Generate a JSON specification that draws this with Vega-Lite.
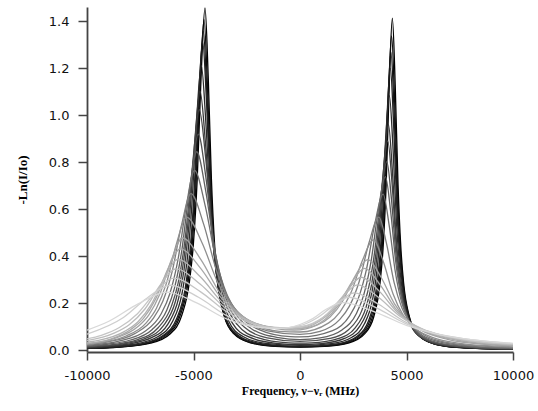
{
"$schema": "https://vega.github.io/schema/vega-lite/v6.json",
"width": 426, "height": 345,
"autosize": "none",
"padding": {"left": 87, "top": 7, "right": 25, "bottom": 59},
"background": "white",
"config": {"view": {"stroke": null}, "axis": {"grid": false}},
"data": {"values": [
{"c":0,"x":-10000,"y":0.007},{"c":0,"x":-8475,"y":0.013},{"c":0,"x":-7015,"y":0.030},{"c":0,"x":-6102,"y":0.069},{"c":0,"x":-5555,"y":0.147},{"c":0,"x":-5190,"y":0.292},{"c":0,"x":-5008,"y":0.449},{"c":0,"x":-4825,"y":0.729},{"c":0,"x":-4643,"y":1.165},{"c":0,"x":-4460,"y":1.456},{"c":0,"x":-4310,"y":1.165},{"c":0,"x":-4160,"y":0.729},{"c":0,"x":-4010,"y":0.449},{"c":0,"x":-3860,"y":0.292},{"c":0,"x":-3560,"y":0.147},{"c":0,"x":-3110,"y":0.070},{"c":0,"x":-2360,"y":0.032},{"c":0,"x":-1160,"y":0.016},{"c":0,"x":0,"y":0.013},{"c":0,"x":1146,"y":0.016},{"c":0,"x":2306,"y":0.031},{"c":0,"x":3031,"y":0.069},{"c":0,"x":3466,"y":0.143},{"c":0,"x":3756,"y":0.284},{"c":0,"x":3901,"y":0.436},{"c":0,"x":4046,"y":0.707},{"c":0,"x":4191,"y":1.130},{"c":0,"x":4336,"y":1.413},{"c":0,"x":4469,"y":1.130},{"c":0,"x":4601,"y":0.707},{"c":0,"x":4734,"y":0.436},{"c":0,"x":4866,"y":0.284},{"c":0,"x":5131,"y":0.143},{"c":0,"x":5529,"y":0.068},{"c":0,"x":6191,"y":0.030},{"c":0,"x":7251,"y":0.013},{"c":0,"x":10000,"y":0.004},
{"c":1,"x":-10000,"y":0.007},{"c":1,"x":-8685,"y":0.012},{"c":1,"x":-7165,"y":0.029},{"c":1,"x":-6215,"y":0.067},{"c":1,"x":-5645,"y":0.142},{"c":1,"x":-5265,"y":0.282},{"c":1,"x":-5075,"y":0.433},{"c":1,"x":-4885,"y":0.704},{"c":1,"x":-4695,"y":1.125},{"c":1,"x":-4505,"y":1.406},{"c":1,"x":-4345,"y":1.125},{"c":1,"x":-4185,"y":0.704},{"c":1,"x":-4025,"y":0.433},{"c":1,"x":-3865,"y":0.282},{"c":1,"x":-3545,"y":0.142},{"c":1,"x":-3065,"y":0.068},{"c":1,"x":-2265,"y":0.031},{"c":1,"x":-985,"y":0.016},{"c":1,"x":0,"y":0.014},{"c":1,"x":945,"y":0.016},{"c":1,"x":2165,"y":0.030},{"c":1,"x":2927,"y":0.065},{"c":1,"x":3385,"y":0.136},{"c":1,"x":3690,"y":0.269},{"c":1,"x":3842,"y":0.413},{"c":1,"x":3995,"y":0.669},{"c":1,"x":4147,"y":1.070},{"c":1,"x":4300,"y":1.337},{"c":1,"x":4440,"y":1.070},{"c":1,"x":4580,"y":0.669},{"c":1,"x":4720,"y":0.413},{"c":1,"x":4860,"y":0.269},{"c":1,"x":5140,"y":0.135},{"c":1,"x":5560,"y":0.064},{"c":1,"x":6260,"y":0.028},{"c":1,"x":7380,"y":0.012},{"c":1,"x":10000,"y":0.004},
{"c":2,"x":-10000,"y":0.008},{"c":2,"x":-8885,"y":0.012},{"c":2,"x":-7305,"y":0.028},{"c":2,"x":-6318,"y":0.065},{"c":2,"x":-5725,"y":0.137},{"c":2,"x":-5330,"y":0.272},{"c":2,"x":-5133,"y":0.418},{"c":2,"x":-4935,"y":0.679},{"c":2,"x":-4738,"y":1.085},{"c":2,"x":-4540,"y":1.356},{"c":2,"x":-4368,"y":1.085},{"c":2,"x":-4195,"y":0.679},{"c":2,"x":-4023,"y":0.418},{"c":2,"x":-3850,"y":0.272},{"c":2,"x":-3505,"y":0.137},{"c":2,"x":-2988,"y":0.066},{"c":2,"x":-2125,"y":0.030},{"c":2,"x":-745,"y":0.016},{"c":2,"x":0,"y":0.015},{"c":2,"x":695,"y":0.016},{"c":2,"x":1995,"y":0.029},{"c":2,"x":2808,"y":0.062},{"c":2,"x":3295,"y":0.129},{"c":2,"x":3620,"y":0.255},{"c":2,"x":3783,"y":0.392},{"c":2,"x":3945,"y":0.635},{"c":2,"x":4108,"y":1.015},{"c":2,"x":4270,"y":1.268},{"c":2,"x":4418,"y":1.015},{"c":2,"x":4565,"y":0.635},{"c":2,"x":4713,"y":0.391},{"c":2,"x":4860,"y":0.255},{"c":2,"x":5155,"y":0.128},{"c":2,"x":5598,"y":0.061},{"c":2,"x":6335,"y":0.027},{"c":2,"x":7515,"y":0.011},{"c":2,"x":10000,"y":0.004},
{"c":3,"x":-10000,"y":0.008},{"c":3,"x":-9080,"y":0.011},{"c":3,"x":-7440,"y":0.027},{"c":3,"x":-6415,"y":0.063},{"c":3,"x":-5800,"y":0.132},{"c":3,"x":-5390,"y":0.263},{"c":3,"x":-5185,"y":0.404},{"c":3,"x":-4980,"y":0.656},{"c":3,"x":-4775,"y":1.049},{"c":3,"x":-4570,"y":1.311},{"c":3,"x":-4385,"y":1.049},{"c":3,"x":-4200,"y":0.656},{"c":3,"x":-4015,"y":0.404},{"c":3,"x":-3830,"y":0.263},{"c":3,"x":-3460,"y":0.132},{"c":3,"x":-2905,"y":0.063},{"c":3,"x":-1980,"y":0.030},{"c":3,"x":-500,"y":0.017},{"c":3,"x":0,"y":0.016},{"c":3,"x":445,"y":0.017},{"c":3,"x":1825,"y":0.028},{"c":3,"x":2688,"y":0.059},{"c":3,"x":3205,"y":0.122},{"c":3,"x":3550,"y":0.242},{"c":3,"x":3723,"y":0.371},{"c":3,"x":3895,"y":0.601},{"c":3,"x":4068,"y":0.961},{"c":3,"x":4240,"y":1.200},{"c":3,"x":4395,"y":0.960},{"c":3,"x":4550,"y":0.600},{"c":3,"x":4705,"y":0.370},{"c":3,"x":4860,"y":0.241},{"c":3,"x":5170,"y":0.121},{"c":3,"x":5635,"y":0.058},{"c":3,"x":6410,"y":0.025},{"c":3,"x":7650,"y":0.011},{"c":3,"x":10000,"y":0.004},
{"c":4,"x":-10000,"y":0.009},{"c":4,"x":-9585,"y":0.011},{"c":4,"x":-7785,"y":0.025},{"c":4,"x":-6660,"y":0.058},{"c":4,"x":-5985,"y":0.122},{"c":4,"x":-5535,"y":0.243},{"c":4,"x":-5310,"y":0.373},{"c":4,"x":-5085,"y":0.606},{"c":4,"x":-4860,"y":0.969},{"c":4,"x":-4635,"y":1.211},{"c":4,"x":-4420,"y":0.969},{"c":4,"x":-4205,"y":0.606},{"c":4,"x":-3990,"y":0.373},{"c":4,"x":-3775,"y":0.243},{"c":4,"x":-3345,"y":0.123},{"c":4,"x":-2700,"y":0.059},{"c":4,"x":-1625,"y":0.029},{"c":4,"x":0,"y":0.020},{"c":4,"x":1465,"y":0.028},{"c":4,"x":2440,"y":0.055},{"c":4,"x":3025,"y":0.112},{"c":4,"x":3415,"y":0.219},{"c":4,"x":3610,"y":0.336},{"c":4,"x":3805,"y":0.543},{"c":4,"x":4000,"y":0.867},{"c":4,"x":4195,"y":1.083},{"c":4,"x":4363,"y":0.867},{"c":4,"x":4530,"y":0.543},{"c":4,"x":4698,"y":0.335},{"c":4,"x":4865,"y":0.218},{"c":4,"x":5200,"y":0.110},{"c":4,"x":5703,"y":0.053},{"c":4,"x":6540,"y":0.023},{"c":4,"x":7880,"y":0.010},{"c":4,"x":10000,"y":0.004},
{"c":5,"x":-10000,"y":0.011},{"c":5,"x":-9195,"y":0.015},{"c":5,"x":-8195,"y":0.024},{"c":5,"x":-6945,"y":0.054},{"c":5,"x":-6195,"y":0.112},{"c":5,"x":-5695,"y":0.222},{"c":5,"x":-5445,"y":0.341},{"c":5,"x":-5195,"y":0.552},{"c":5,"x":-4945,"y":0.882},{"c":5,"x":-4695,"y":1.102},{"c":5,"x":-4440,"y":0.883},{"c":5,"x":-4185,"y":0.554},{"c":5,"x":-3930,"y":0.342},{"c":5,"x":-3675,"y":0.223},{"c":5,"x":-3165,"y":0.114},{"c":5,"x":-2400,"y":0.056},{"c":5,"x":-1125,"y":0.029},{"c":5,"x":0,"y":0.024},{"c":5,"x":1000,"y":0.028},{"c":5,"x":2125,"y":0.051},{"c":5,"x":2800,"y":0.101},{"c":5,"x":3250,"y":0.195},{"c":5,"x":3475,"y":0.298},{"c":5,"x":3700,"y":0.482},{"c":5,"x":3925,"y":0.769},{"c":5,"x":4150,"y":0.960},{"c":5,"x":4333,"y":0.769},{"c":5,"x":4515,"y":0.482},{"c":5,"x":4698,"y":0.298},{"c":5,"x":4880,"y":0.195},{"c":5,"x":5245,"y":0.099},{"c":5,"x":5793,"y":0.048},{"c":5,"x":6705,"y":0.021},{"c":5,"x":8165,"y":0.010},{"c":5,"x":10000,"y":0.005},
{"c":6,"x":-10000,"y":0.013},{"c":6,"x":-8650,"y":0.022},{"c":6,"x":-7250,"y":0.050},{"c":6,"x":-6410,"y":0.104},{"c":6,"x":-5850,"y":0.207},{"c":6,"x":-5570,"y":0.317},{"c":6,"x":-5290,"y":0.513},{"c":6,"x":-5010,"y":0.819},{"c":6,"x":-4730,"y":1.023},{"c":6,"x":-4430,"y":0.819},{"c":6,"x":-4130,"y":0.514},{"c":6,"x":-3830,"y":0.317},{"c":6,"x":-3530,"y":0.208},{"c":6,"x":-2930,"y":0.107},{"c":6,"x":-2030,"y":0.054},{"c":6,"x":-530,"y":0.031},{"c":6,"x":0,"y":0.030},{"c":6,"x":550,"y":0.031},{"c":6,"x":1825,"y":0.050},{"c":6,"x":2590,"y":0.095},{"c":6,"x":3100,"y":0.182},{"c":6,"x":3355,"y":0.277},{"c":6,"x":3610,"y":0.448},{"c":6,"x":3865,"y":0.714},{"c":6,"x":4120,"y":0.890},{"c":6,"x":4318,"y":0.714},{"c":6,"x":4515,"y":0.448},{"c":6,"x":4713,"y":0.277},{"c":6,"x":4910,"y":0.181},{"c":6,"x":5305,"y":0.092},{"c":6,"x":5898,"y":0.045},{"c":6,"x":6885,"y":0.021},{"c":6,"x":8465,"y":0.010},{"c":6,"x":10000,"y":0.006},
{"c":7,"x":-10000,"y":0.015},{"c":7,"x":-9190,"y":0.020},{"c":7,"x":-7615,"y":0.045},{"c":7,"x":-6670,"y":0.094},{"c":7,"x":-6040,"y":0.186},{"c":7,"x":-5725,"y":0.284},{"c":7,"x":-5410,"y":0.461},{"c":7,"x":-5095,"y":0.735},{"c":7,"x":-4780,"y":0.919},{"c":7,"x":-4420,"y":0.736},{"c":7,"x":-4060,"y":0.462},{"c":7,"x":-3700,"y":0.286},{"c":7,"x":-3340,"y":0.188},{"c":7,"x":-2620,"y":0.098},{"c":7,"x":-1540,"y":0.052},{"c":7,"x":0,"y":0.037},{"c":7,"x":1420,"y":0.050},{"c":7,"x":2305,"y":0.089},{"c":7,"x":2895,"y":0.167},{"c":7,"x":3190,"y":0.252},{"c":7,"x":3485,"y":0.404},{"c":7,"x":3780,"y":0.642},{"c":7,"x":4075,"y":0.802},{"c":7,"x":4293,"y":0.643},{"c":7,"x":4510,"y":0.404},{"c":7,"x":4728,"y":0.250},{"c":7,"x":4945,"y":0.164},{"c":7,"x":5380,"y":0.084},{"c":7,"x":6033,"y":0.041},{"c":7,"x":7120,"y":0.018},{"c":7,"x":8860,"y":0.009},{"c":7,"x":10000,"y":0.006},
{"c":8,"x":-10000,"y":0.017},{"c":8,"x":-9050,"y":0.025},{"c":8,"x":-8000,"y":0.042},{"c":8,"x":-6950,"y":0.087},{"c":8,"x":-6250,"y":0.171},{"c":8,"x":-5900,"y":0.262},{"c":8,"x":-5550,"y":0.424},{"c":8,"x":-5200,"y":0.676},{"c":8,"x":-4850,"y":0.844},{"c":8,"x":-4425,"y":0.677},{"c":8,"x":-4000,"y":0.425},{"c":8,"x":-3575,"y":0.264},{"c":8,"x":-3150,"y":0.175},{"c":8,"x":-2300,"y":0.092},{"c":8,"x":-1025,"y":0.053},{"c":8,"x":0,"y":0.045},{"c":8,"x":950,"y":0.052},{"c":8,"x":1970,"y":0.086},{"c":8,"x":2650,"y":0.156},{"c":8,"x":2990,"y":0.234},{"c":8,"x":3330,"y":0.374},{"c":8,"x":3670,"y":0.592},{"c":8,"x":4010,"y":0.738},{"c":8,"x":4255,"y":0.591},{"c":8,"x":4500,"y":0.372},{"c":8,"x":4745,"y":0.231},{"c":8,"x":4990,"y":0.151},{"c":8,"x":5480,"y":0.078},{"c":8,"x":6215,"y":0.038},{"c":8,"x":7440,"y":0.018},{"c":8,"x":9400,"y":0.008},{"c":8,"x":10000,"y":0.007},
{"c":9,"x":-10000,"y":0.020},{"c":9,"x":-8460,"y":0.039},{"c":9,"x":-7290,"y":0.079},{"c":9,"x":-6510,"y":0.156},{"c":9,"x":-6120,"y":0.238},{"c":9,"x":-5730,"y":0.384},{"c":9,"x":-5340,"y":0.613},{"c":9,"x":-4950,"y":0.765},{"c":9,"x":-4450,"y":0.614},{"c":9,"x":-3950,"y":0.387},{"c":9,"x":-3450,"y":0.241},{"c":9,"x":-2950,"y":0.161},{"c":9,"x":-1950,"y":0.088},{"c":9,"x":-450,"y":0.057},{"c":9,"x":0,"y":0.056},{"c":9,"x":1530,"y":0.083},{"c":9,"x":2320,"y":0.145},{"c":9,"x":2715,"y":0.214},{"c":9,"x":3110,"y":0.339},{"c":9,"x":3505,"y":0.534},{"c":9,"x":3900,"y":0.664},{"c":9,"x":4185,"y":0.532},{"c":9,"x":4470,"y":0.336},{"c":9,"x":4755,"y":0.209},{"c":9,"x":5040,"y":0.138},{"c":9,"x":5610,"y":0.072},{"c":9,"x":6465,"y":0.037},{"c":9,"x":7890,"y":0.018},{"c":9,"x":10000,"y":0.009},
{"c":10,"x":-10000,"y":0.023},{"c":10,"x":-9080,"y":0.034},{"c":10,"x":-7760,"y":0.070},{"c":10,"x":-6880,"y":0.136},{"c":10,"x":-6440,"y":0.208},{"c":10,"x":-6000,"y":0.335},{"c":10,"x":-5560,"y":0.533},{"c":10,"x":-5120,"y":0.666},{"c":10,"x":-4520,"y":0.535},{"c":10,"x":-3920,"y":0.338},{"c":10,"x":-3320,"y":0.212},{"c":10,"x":-2720,"y":0.143},{"c":10,"x":-1520,"y":0.082},{"c":10,"x":0,"y":0.067},{"c":10,"x":940,"y":0.080},{"c":10,"x":1860,"y":0.130},{"c":10,"x":2320,"y":0.187},{"c":10,"x":2780,"y":0.292},{"c":10,"x":3240,"y":0.457},{"c":10,"x":3700,"y":0.566},{"c":10,"x":4060,"y":0.454},{"c":10,"x":4420,"y":0.287},{"c":10,"x":4780,"y":0.180},{"c":10,"x":5140,"y":0.120},{"c":10,"x":5860,"y":0.063},{"c":10,"x":6940,"y":0.032},{"c":10,"x":8740,"y":0.016},{"c":10,"x":10000,"y":0.011},
{"c":11,"x":-10000,"y":0.025},{"c":11,"x":-9120,"y":0.036},{"c":11,"x":-8170,"y":0.060},{"c":11,"x":-7220,"y":0.116},{"c":11,"x":-6745,"y":0.177},{"c":11,"x":-6270,"y":0.285},{"c":11,"x":-5795,"y":0.454},{"c":11,"x":-5320,"y":0.566},{"c":11,"x":-4595,"y":0.456},{"c":11,"x":-3870,"y":0.289},{"c":11,"x":-3145,"y":0.184},{"c":11,"x":-2420,"y":0.126},{"c":11,"x":-970,"y":0.080},{"c":11,"x":0,"y":0.077},{"c":11,"x":1350,"y":0.116},{"c":11,"x":1875,"y":0.162},{"c":11,"x":2400,"y":0.246},{"c":11,"x":2925,"y":0.380},{"c":11,"x":3450,"y":0.469},{"c":11,"x":3910,"y":0.377},{"c":11,"x":4370,"y":0.239},{"c":11,"x":4830,"y":0.151},{"c":11,"x":5290,"y":0.101},{"c":11,"x":6210,"y":0.054},{"c":11,"x":7590,"y":0.028},{"c":11,"x":8800,"y":0.019},{"c":11,"x":10000,"y":0.014},
{"c":12,"x":-10000,"y":0.027},{"c":12,"x":-8670,"y":0.051},{"c":12,"x":-7620,"y":0.099},{"c":12,"x":-7095,"y":0.150},{"c":12,"x":-6570,"y":0.241},{"c":12,"x":-6045,"y":0.382},{"c":12,"x":-5520,"y":0.477},{"c":12,"x":-4645,"y":0.384},{"c":12,"x":-3770,"y":0.245},{"c":12,"x":-2895,"y":0.158},{"c":12,"x":-2020,"y":0.112},{"c":12,"x":-270,"y":0.085},{"c":12,"x":820,"y":0.107},{"c":12,"x":1410,"y":0.141},{"c":12,"x":2000,"y":0.208},{"c":12,"x":2590,"y":0.315},{"c":12,"x":3180,"y":0.385},{"c":12,"x":3805,"y":0.310},{"c":12,"x":4430,"y":0.198},{"c":12,"x":5055,"y":0.125},{"c":12,"x":5680,"y":0.085},{"c":12,"x":6930,"y":0.046},{"c":12,"x":8805,"y":0.024},{"c":12,"x":10000,"y":0.018},
{"c":12.5,"x":-10000,"y":0.029},{"c":12.5,"x":-8925,"y":0.046},{"c":12.5,"x":-7925,"y":0.089},{"c":12.5,"x":-7350,"y":0.135},{"c":12.5,"x":-6775,"y":0.218},{"c":12.5,"x":-6200,"y":0.346},{"c":12.5,"x":-5625,"y":0.431},{"c":12.5,"x":-4665,"y":0.348},{"c":12.5,"x":-3705,"y":0.223},{"c":12.5,"x":-2745,"y":0.145},{"c":12.5,"x":-1785,"y":0.105},{"c":12.5,"x":-400,"y":0.089},{"c":12.5,"x":550,"y":0.100},{"c":12.5,"x":1170,"y":0.130},{"c":12.5,"x":1790,"y":0.189},{"c":12.5,"x":2410,"y":0.285},{"c":12.5,"x":3030,"y":0.348},{"c":12.5,"x":3755,"y":0.279},{"c":12.5,"x":4480,"y":0.178},{"c":12.5,"x":5205,"y":0.114},{"c":12.5,"x":5930,"y":0.077},{"c":12.5,"x":7380,"y":0.042},{"c":12.5,"x":10000,"y":0.020},
{"c":13,"x":-10000,"y":0.033},{"c":13,"x":-9480,"y":0.041},{"c":13,"x":-8230,"y":0.080},{"c":13,"x":-7605,"y":0.121},{"c":13,"x":-6980,"y":0.195},{"c":13,"x":-6355,"y":0.310},{"c":13,"x":-5730,"y":0.386},{"c":13,"x":-4680,"y":0.312},{"c":13,"x":-3630,"y":0.201},{"c":13,"x":-2580,"y":0.133},{"c":13,"x":-1530,"y":0.099},{"c":13,"x":0,"y":0.094},{"c":13,"x":930,"y":0.124},{"c":13,"x":1580,"y":0.174},{"c":13,"x":2230,"y":0.255},{"c":13,"x":2880,"y":0.310},{"c":13,"x":3730,"y":0.250},{"c":13,"x":4580,"y":0.160},{"c":13,"x":5430,"y":0.102},{"c":13,"x":6280,"y":0.069},{"c":13,"x":7980,"y":0.038},{"c":13,"x":10000,"y":0.022},
{"c":13.5,"x":-10000,"y":0.040},{"c":13.5,"x":-8730,"y":0.072},{"c":13.5,"x":-8005,"y":0.109},{"c":13.5,"x":-7280,"y":0.175},{"c":13.5,"x":-6555,"y":0.277},{"c":13.5,"x":-5830,"y":0.346},{"c":13.5,"x":-4680,"y":0.280},{"c":13.5,"x":-3530,"y":0.181},{"c":13.5,"x":-2380,"y":0.122},{"c":13.5,"x":-1080,"y":0.095},{"c":13.5,"x":0,"y":0.098},{"c":13.5,"x":1330,"y":0.157},{"c":13.5,"x":2020,"y":0.229},{"c":13.5,"x":2710,"y":0.278},{"c":13.5,"x":3710,"y":0.223},{"c":13.5,"x":4710,"y":0.143},{"c":13.5,"x":5710,"y":0.092},{"c":13.5,"x":6710,"y":0.062},{"c":13.5,"x":8710,"y":0.034},{"c":13.5,"x":10000,"y":0.025},
{"c":14,"x":-10000,"y":0.048},{"c":14,"x":-9330,"y":0.063},{"c":14,"x":-8480,"y":0.096},{"c":14,"x":-7630,"y":0.155},{"c":14,"x":-6780,"y":0.246},{"c":14,"x":-5930,"y":0.306},{"c":14,"x":-4680,"y":0.249},{"c":14,"x":-3430,"y":0.162},{"c":14,"x":-2180,"y":0.111},{"c":14,"x":-1000,"y":0.093},{"c":14,"x":0,"y":0.099},{"c":14,"x":1090,"y":0.140},{"c":14,"x":1815,"y":0.202},{"c":14,"x":2540,"y":0.244},{"c":14,"x":3690,"y":0.195},{"c":14,"x":4840,"y":0.125},{"c":14,"x":5990,"y":0.080},{"c":14,"x":7140,"y":0.054},{"c":14,"x":8500,"y":0.034},{"c":14,"x":10000,"y":0.026},
{"c":14.5,"x":-10000,"y":0.068},{"c":14.5,"x":-8290,"y":0.139},{"c":14.5,"x":-7190,"y":0.221},{"c":14.5,"x":-6090,"y":0.276},{"c":14.5,"x":-4765,"y":0.225},{"c":14.5,"x":-3440,"y":0.147},{"c":14.5,"x":-2115,"y":0.102},{"c":14.5,"x":-1000,"y":0.093},{"c":14.5,"x":0,"y":0.104},{"c":14.5,"x":850,"y":0.140},{"c":14.5,"x":1530,"y":0.186},{"c":14.5,"x":2290,"y":0.225},{"c":14.5,"x":3615,"y":0.179},{"c":14.5,"x":4940,"y":0.114},{"c":14.5,"x":6265,"y":0.073},{"c":14.5,"x":7590,"y":0.050},{"c":14.5,"x":10000,"y":0.028},
{"c":15,"x":-10000,"y":0.085},{"c":15,"x":-8950,"y":0.124},{"c":15,"x":-7600,"y":0.197},{"c":15,"x":-6250,"y":0.247},{"c":15,"x":-4850,"y":0.201},{"c":15,"x":-3450,"y":0.133},{"c":15,"x":-2050,"y":0.098},{"c":15,"x":-1000,"y":0.092},{"c":15,"x":0,"y":0.109},{"c":15,"x":600,"y":0.134},{"c":15,"x":1230,"y":0.174},{"c":15,"x":2030,"y":0.202},{"c":15,"x":3530,"y":0.162},{"c":15,"x":5030,"y":0.104},{"c":15,"x":6530,"y":0.066},{"c":15,"x":8030,"y":0.045},{"c":15,"x":10000,"y":0.029}
]},
"mark": {"type": "line", "interpolate": "monotone", "strokeWidth": 1.3, "clip": true},
"encoding": {
"x": {"field": "x", "type": "quantitative",
"scale": {"domain": [-10000, 10000], "nice": false},
"axis": {"values": [-10000, -5000, 0, 5000, 10000], "labelExpr": "'' + datum.value",
"title": "Frequency, ν−νᵣ (MHz)", "titleFont": "Liberation Serif", "titleFontSize": 12, "titleFontWeight": "bold", "titleColor": "#000", "titlePadding": 3,
"labelFont": "DejaVu Sans", "labelFontSize": 13, "labelColor": "#111", "labelPadding": 9,
"tickSize": 8, "tickWidth": 1.5, "tickColor": "#444", "domainColor": "#444", "domainWidth": 1.8, "labelFlush": false}},
"y": {"field": "y", "type": "quantitative",
"scale": {"domain": [-0.008, 1.46], "nice": false, "zero": false},
"axis": {"values": [0, 0.2, 0.4, 0.6, 0.8, 1.0, 1.2, 1.4], "format": ".1f",
"title": "-Ln(I/Io)", "titleFont": "Liberation Serif", "titleFontSize": 13, "titleFontWeight": "bold", "titleColor": "#000", "titlePadding": 19,
"labelFont": "DejaVu Sans", "labelFontSize": 13, "labelColor": "#111", "labelPadding": 9,
"tickSize": 9, "tickWidth": 1.5, "tickColor": "#444", "domainColor": "#444", "domainWidth": 1.8}},
"color": {"field": "c", "type": "quantitative", "scale": {"type": "pow", "exponent": 1.2, "domain": [0, 15], "range": ["#000000", "#d8d8d8"]}, "legend": null},
"detail": {"field": "c", "type": "nominal"}
}
}
